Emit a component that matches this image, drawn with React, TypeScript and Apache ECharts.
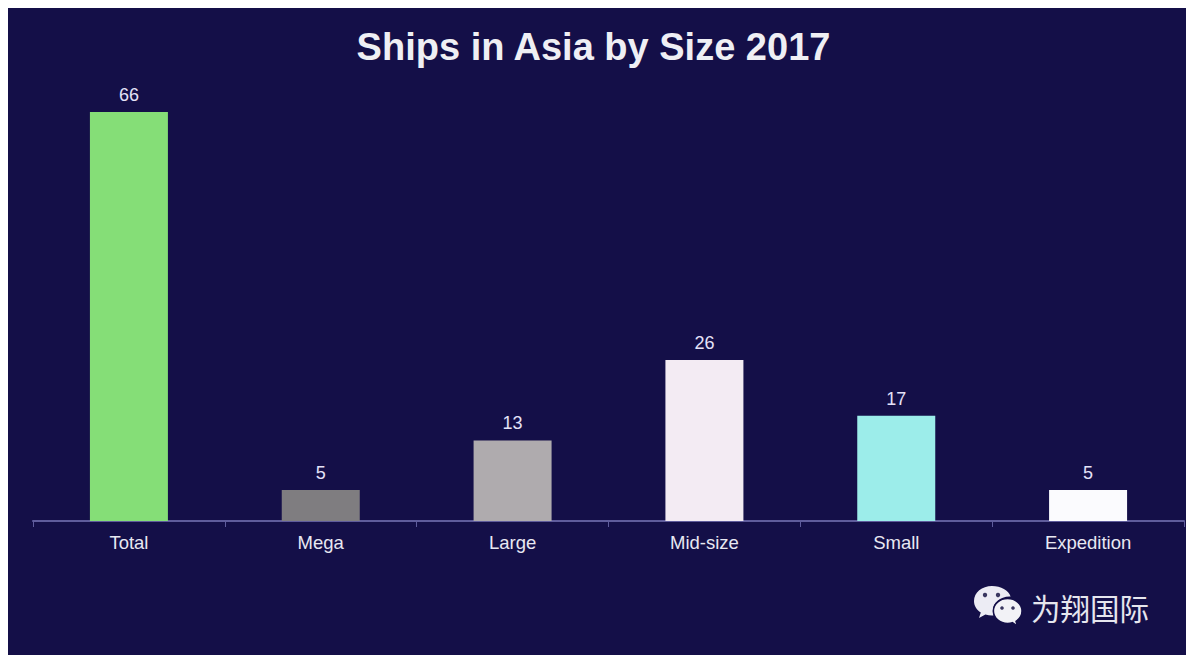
import React, { useEffect, useRef } from "react";
import * as echarts from "echarts";

const categories = ["Total", "Mega", "Large", "Mid-size", "Small", "Expedition"];
const shipCounts = [66, 5, 13, 26, 17, 5];
const barColors = ["#85DE77", "#7F7D80", "#AFABAE", "#F3EBF3", "#9CEDEA", "#FBFBFE"];
const chartTitle = "Ships in Asia by Size 2017";
const brandName = "为翔国际";

// WeChat-style double speech bubble, drawn in a 48x40 box.
const bubbleBack =
  "M18 0C8 0 0 6.6 0 15c0 4.8 2.6 8.8 6.8 11.6L5 32l6.4-3.4c2.2.6 4.4 1 6.6 1h1.6C19 28 18.8 26.6 18.8 25c0-8 7.4-14.4 16.6-14.4h1.2C34.6 4.4 27 0 18 0Z";
const bubbleFront =
  "M48 25c0-7-6.6-12.4-14.4-12.4S19.4 18 19.4 25s6.6 12.4 14.2 12.4c1.6 0 3.2-.2 4.8-.8L43.4 40l-1.4-4.6C45.8 32.8 48 29.2 48 25Z";
echarts.graphic.registerShape("bubbleBack", echarts.graphic.extendPath(bubbleBack, {}) as any);
echarts.graphic.registerShape("bubbleFront", echarts.graphic.extendPath(bubbleFront, {}) as any);

export default function App() {
  const ref = useRef<HTMLDivElement>(null);

  useEffect(() => {
    const chart = echarts.init(ref.current!, undefined, { renderer: "svg" });
    chart.setOption({
      animation: false,
      backgroundColor: "#140F48",
      title: {
        text: chartTitle,
        left: 580.5,
        top: 15,
        textAlign: "center",
        textStyle: { color: "#EFEFF4", fontSize: 38, fontWeight: "bold", fontFamily: "Liberation Sans" },
      },
      grid: { left: 25, right: 3, top: 104, height: 409 },
      xAxis: {
        type: "category",
        data: categories,
        axisLine: { lineStyle: { color: "#5F5C9C", width: 2 } },
        axisTick: { show: true, length: 6, lineStyle: { color: "#5F5C9C", width: 1 } },
        axisLabel: { color: "#E8E8F2", fontSize: 18.5, fontFamily: "Liberation Sans", margin: 12 },
      },
      yAxis: { type: "value", min: 0, max: 66, show: false },
      series: [
        {
          type: "bar",
          barWidth: 78,
          data: shipCounts.map((value, i) => ({ value, itemStyle: { color: barColors[i] } })),
          label: {
            show: true,
            position: "top",
            distance: 8,
            color: "#E4E2F8",
            fontSize: 18,
            fontFamily: "Liberation Sans",
          },
        },
      ],
      graphic: [
        {
          type: "group",
          x: 966,
          y: 578,
          children: [
            { type: "bubbleBack", style: { fill: "#ECECF4" } },
            { type: "bubbleFront", style: { fill: "#F2F2F6", stroke: "#140F48", lineWidth: 1.5 } },
            { type: "circle", shape: { cx: 11, cy: 9, r: 2.2 }, style: { fill: "#3A3760" } },
            { type: "circle", shape: { cx: 24, cy: 9, r: 2.2 }, style: { fill: "#3A3760" } },
            { type: "circle", shape: { cx: 28, cy: 22, r: 1.8 }, style: { fill: "#3A3760" } },
            { type: "circle", shape: { cx: 39, cy: 22, r: 1.8 }, style: { fill: "#3A3760" } },
          ],
        },
        {
          type: "text",
          x: 1023,
          y: 584,
          style: {
            text: brandName,
            fill: "#E6E6EE",
            fontSize: 29.5,
            fontFamily: "Noto Sans CJK SC",
          },
        },
      ],
    });
    return () => chart.dispose();
  }, []);

  return <div ref={ref} style={{ width: 1179, height: 647 }} />;
}
